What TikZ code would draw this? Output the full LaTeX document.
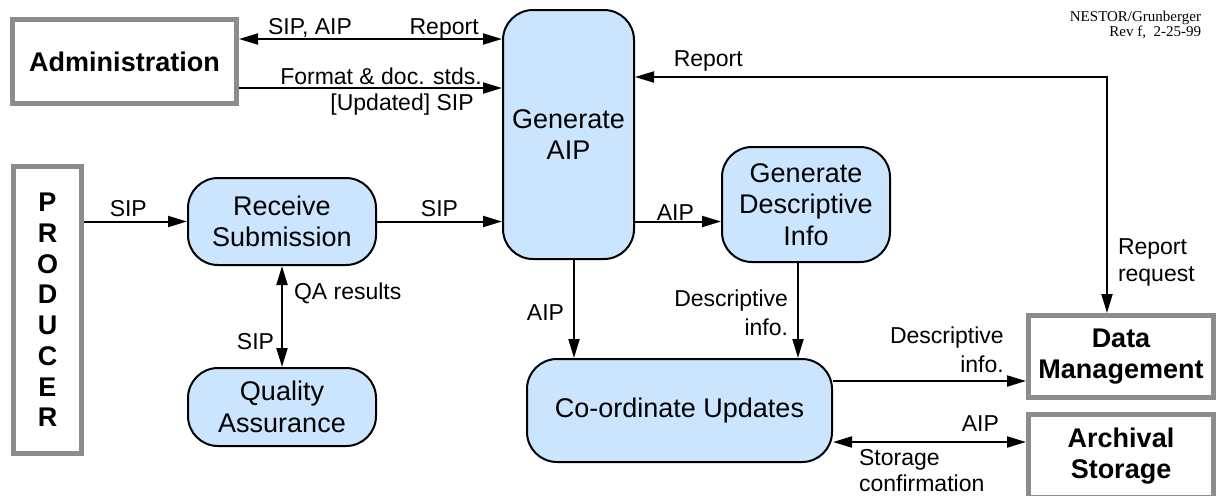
\documentclass[tikz,border=0pt]{standalone}
\usepackage{fontspec}
\setmainfont{Liberation Sans}
\newfontfamily\timesfont{Liberation Serif}
\usetikzlibrary{arrows.meta,positioning}
\definecolor{procblue}{RGB}{204,229,255}
\definecolor{extgray}{RGB}{140,140,140}

\begin{document}
\begin{tikzpicture}[x=0.5pt, y=-0.5pt, line width=1pt,
    >={Triangle[length=9.5pt,width=5.5pt]},
    proc/.style={draw, fill=procblue, rounded corners=15pt, align=center, inner sep=0pt,
      font=\fontsize{13.5}{15.75}\selectfont},
    ext/.style={draw=extgray, line width=2.5pt, fill=white, align=center, inner sep=0pt,
      font=\fontsize{13.5}{15.75}\selectfont\bfseries},
    lbl/.style={font=\fontsize{11.5}{14.5}\selectfont, inner sep=0pt, text depth=0pt}]

    \clip (0,0) rectangle (1221,495);

    \node [ext, minimum width=112pt, minimum height=42pt] (adm) at (124.5,61.5) {Administration};
    \node [ext, minimum width=34pt, minimum height=143.5pt, font=\fontsize{13.5}{15.36}\selectfont\bfseries] (prod) at (47.5,310) {P\\R\\O\\D\\U\\C\\E\\R};
    \node [proc, minimum width=94pt, minimum height=43.5pt] (recv) at (282,221.5) {Receive\\Submission};
    \node [proc, minimum width=94pt, minimum height=39pt] (qa) at (282,407) {Quality\\Assurance};
    \node [proc, minimum width=65.5pt, minimum height=124.5pt] (gen) at (568.5,134.5) {Generate\\AIP};
    \node [proc, minimum width=84pt, minimum height=57.5pt] (desc) at (806,204.5) {Generate\\Descriptive\\Info};
    \node [proc, minimum width=152.5pt, minimum height=51.5pt] (coord) at (679.5,410.5) {Co-ordinate Updates};
    \node [ext, minimum width=92.5pt, minimum height=41pt] (dm) at (1121,356.5) {Data\\Management};
    \node [ext, minimum width=92.5pt, minimum height=41.5pt] (as) at (1121,456) {Archival\\Storage};
    \node [anchor=north east, align=right, inner sep=0pt, font=\timesfont\fontsize{7.5}{7.5}\selectfont] (rev) at (1202,10) {NESTOR/Grunberger\\Rev f,\ \ 2-25-99};

    \coordinate (a1) at ([yshift=11.25pt]adm.east);
    \coordinate (a2) at ([yshift=-13.25pt]adm.east);
    \coordinate (g1) at ([xshift=2.75pt]gen.south);
    \coordinate (d1) at ([xshift=-4pt]desc.south);
    \coordinate (c1) at ([yshift=14.75pt]coord.east);
    \coordinate (c2) at ([yshift=-15.75pt]coord.east);
    \coordinate (rc) at (1107,77);

    \draw [<->] (a1) to node [lbl, above=2pt, pos=0.27] {SIP, AIP} node [lbl, above=2pt, pos=0.78] {Report} (a1 -| gen.west);
    \draw [->] (a2) to node [lbl, above=1.5pt, pos=0.54] {Format \& doc. stds.} node [lbl, below=2.5pt, pos=0.62] {[Updated] SIP} (a2 -| gen.west);
    \draw [->] (prod.east |- recv.west) to node [lbl, above=2pt, pos=0.43] {SIP} (recv.west);
    \draw [->] (recv.east) to node [lbl, above=2pt, pos=0.5] {SIP} (recv.east -| gen.west);
    \draw [<->] (recv.south) to node [lbl, right=5.5pt, pos=0.25] {QA results} node [lbl, left=3.5pt, pos=0.75] {SIP} (qa.north);
    \draw [->] (gen.east |- recv.east) to node [lbl, above=0pt, pos=0.47] {AIP} (recv.east -| desc.west);
    \draw [->] (g1) to node [lbl, left=4.5pt, pos=0.54] {AIP} (g1 |- coord.north);
    \draw [->] (d1) to node [lbl, left=4.5pt, pos=0.52, align=right] {Descriptive\\info.} (d1 |- coord.north);
    \draw [->] (c1) to node [lbl, above left=4pt and 0pt, pos=0.89, align=right] {Descriptive\\info.} (c1 -| dm.west);
    \draw [<->] (c2) to node [lbl, above left=5pt and 0pt, pos=0.865] {AIP} node [lbl, below right=3pt and 0pt, pos=0.13, align=left, font=\fontsize{11.5}{13}\selectfont] {Storage\\confirmation} (c2 -| as.west);
    \draw [<->] (gen.east |- rc) -- node [lbl, above right=5pt and 0pt, pos=0.08] {Report} (rc) -- node [lbl, right=5pt, pos=0.775, align=left, font=\fontsize{11.5}{13.5}\selectfont] {Report\\request} (rc |- dm.north);

\end{tikzpicture}
\end{document}
